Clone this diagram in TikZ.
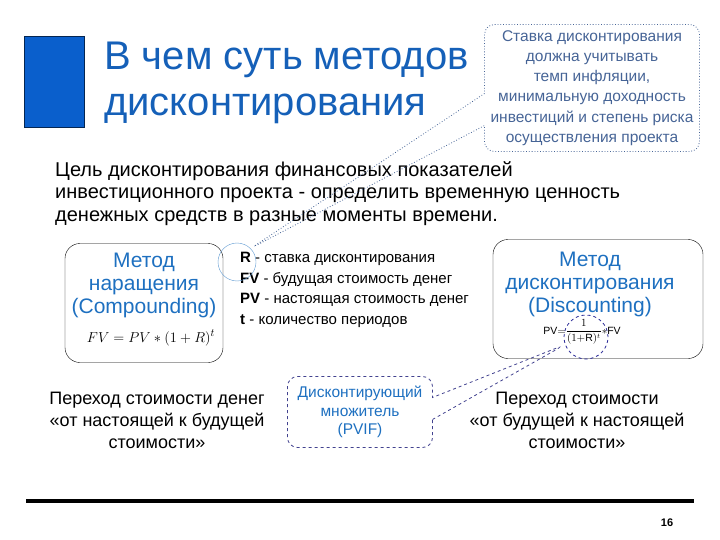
\documentclass[tikz,border=0pt]{standalone}
\usepackage{fontspec}
\setmainfont{Liberation Sans}
\usepackage{amsmath}
\usetikzlibrary{shapes.callouts}

\definecolor{titleblue}{RGB}{21,96,184}
\definecolor{squareblue}{RGB}{10,95,204}
\definecolor{boxblue}{RGB}{30,112,192}
\definecolor{notegray}{RGB}{70,100,150}
\definecolor{ringblue}{RGB}{40,40,150}

\tikzset{
  every node/.style={inner sep=0pt},
  methodbox/.style={draw, rounded corners=15pt, minimum width=#1, minimum height=119pt},
  methodtext/.style={align=center, text=boxblue, font=\fontsize{21}{23}\selectfont},
  bottomtext/.style={align=center, font=\fontsize{18}{22}\selectfont},
  notebox/.style={rectangle callout, rounded corners=10pt, align=center},
}

\begin{document}
\begin{tikzpicture}[x=1pt, y=-1pt]
\useasboundingbox (0,0) rectangle (720,540);
\node[fill=squareblue, draw=squareblue!40!black, minimum width=60pt, minimum height=91pt, anchor=north west] (sq) at (24,36) {};
\node[anchor=north west, align=left, text=titleblue, font=\fontsize{40}{46}\selectfont] (title) at (104,42) {В чем суть методов\\дисконтирования};

\node[anchor=north west, align=left, font=\fontsize{20}{22.5}\selectfont] (aim) at (55,161)
  {Цель дисконтирования финансовых показателей\\инвестиционного проекта - определить временную ценность\\денежных средств в разные моменты времени.};

% methods
\node[methodbox=158pt] (comp) at (144,303) {};
\node[methodtext] (compT) at (144,285) {Метод\\наращения\\(Compounding)};
\node[font=\fontsize{15}{15}\selectfont] (compF) at (151,338) {$FV = PV*(1+R)^{t}$};

\node[methodbox=210pt] (disc) at (598,299) {};
\node[methodtext] (discT) at (590,284) {Метод\\дисконтирования\\(Discounting)};
\node[font=\fontsize{10.5}{10.5}\selectfont] (discF) at (582,332) {$\mathrm{PV}{=}\dfrac{1}{(1{+}\mathrm{R})^{t}}{*}\mathrm{FV}$};
\node[draw=ringblue, dashed, thick, circle, minimum size=44pt] (ring) at (586,337) {};

\node[anchor=north west, align=left, font=\fontsize{15}{20.5}\selectfont] (legend) at (240,252)
  {\textbf{R} - ставка дисконтирования\\\textbf{FV} - будущая стоимость денег\\\textbf{PV} - настоящая стоимость денег\\\textbf{t} -  количество периодов};
\node[draw=boxblue!70, circle, minimum size=38pt] (rring) at (237,262) {};

% notes
\node[notebox, draw=notegray, dotted, thick, text=notegray, minimum width=215pt, minimum height=127pt,
  callout absolute pointer={(rring.north east)}, callout pointer width=32pt,
  font=\fontsize{15.5}{20.2}\selectfont] (rate) at (592,88)
  {Ставка дисконтирования\\должна учитывать\\темп инфляции,\\минимальную доходность\\инвестиций и степень риска\\осуществления проекта};
\node[notebox, draw=ringblue!70!gray, dashed, thick, text=boxblue, minimum width=145pt, minimum height=71pt,
  callout absolute pointer={(ring.200)}, callout pointer width=22pt,
  font=\fontsize{15.5}{18.5}\selectfont] (pvif) at (360,412)
  {Дисконтирующий\\множитель\\(PVIF)};

\node[bottomtext] (toFut) at (157,420) {Переход стоимости денег\\«от настоящей к будущей\\стоимости»};
\node[bottomtext] (toPres) at (577,420) {Переход стоимости\\«от будущей к настоящей\\стоимости»};

\draw[line width=3.5pt] (26,501) -- (694,501);
\node[font=\bfseries\fontsize{11}{11}\selectfont] (page) at (667,523) {16};
\end{tikzpicture}
\end{document}
